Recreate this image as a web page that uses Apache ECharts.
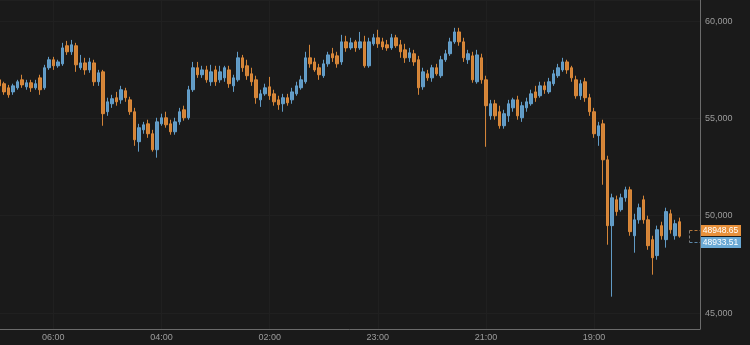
<!DOCTYPE html>
<html><head><meta charset="utf-8">
<script src="https://cdn.jsdelivr.net/npm/echarts@6/dist/echarts.min.js"></script>
<style>html,body{margin:0;padding:0;background:#1a1a1a;}#c{width:750px;height:345px;}</style>
</head><body><div id="c"></div>
<script>
const opens = [
56980,56780,56570,56360,56570,56980,56620,56830,56570,57080,
56570,57600,58010,57700,57800,58730,58420,58730,57600,57850,
57490,57850,56880,57390,55340,55750,56060,55950,56420,55950,
55340,53800,54410,54720,54210,53390,54720,55030,54720,54310,
54820,55440,55030,56470,57600,57240,57490,56880,57490,56980,
57080,57490,56670,56980,58110,57700,57290,56980,55950,56260,
56620,56260,55950,55750,56060,55950,56260,56570,56880,58110,
57900,57600,57190,57800,58320,58210,57900,58930,58620,58930,
58620,58930,57700,58830,59140,58930,58780,58620,59140,58780,
58520,58110,58320,58010,56620,57290,57080,57600,57190,58010,
58320,58930,59440,58930,58010,58210,56880,58110,56980,55130,
55750,55340,54620,55130,55540,55950,55030,55540,55750,56360,
56160,56670,56360,56780,57190,57490,57900,57600,56980,56160,
56880,56060,55340,54110,54720,52870,49490,50820,50310,50920,
51330,48970,49790,50820,49790,48770,47950,49490,48770,50100,
48970,49690];
const closes = [
56670,56360,56210,56670,56880,56720,56830,56570,56780,56470,
57600,58010,57700,57900,58620,58420,58780,57750,57850,57490,
57900,56880,57340,55240,55850,56010,55850,56470,56060,55340,
53900,54520,54670,54210,53390,54820,55030,54670,54310,54820,
55340,55030,56470,57600,57240,57490,56980,57390,56880,57390,
57600,56780,57080,58110,57600,57190,56880,56060,56260,56570,
56160,55850,55700,56060,55800,56360,56670,56980,58110,57800,
57490,57240,57800,58260,58110,57800,58930,58620,58880,58620,
58930,57700,58930,59140,58830,58670,58620,59140,58730,58420,
58110,58370,57900,56570,57390,57080,57600,57290,58010,58320,
58930,59440,58930,58110,58320,56980,58260,56980,55650,55750,
55130,54620,55240,55750,55950,55130,55650,55850,56260,56060,
56670,56470,56880,57290,57600,57900,57490,57080,56160,56780,
56060,55340,54210,54620,52870,49490,50920,50210,50920,51330,
49180,49790,50410,49790,48460,47840,49280,48970,50210,49280,
49590,48948.65];
const lows = [
56570,56210,56060,56210,56470,56570,56470,56360,56470,56210,
56470,57490,57490,57600,57700,58260,58260,57390,57490,57240,
57340,56670,56670,54620,55130,55540,55650,55750,55850,55180,
53590,53290,54210,54000,53290,52980,54620,54520,54160,54160,
54670,54880,54930,56360,57080,57080,56830,56670,56670,56830,
56880,56570,56360,56880,57390,56980,56670,55750,55590,56160,
55950,55650,55440,55340,55650,55750,56160,56470,56780,57600,
57390,56980,57080,57650,57900,57600,57750,58420,58520,58420,
58520,57600,57600,58730,58620,58520,58470,58520,58620,58110,
57850,57900,57700,56210,56470,56930,56880,57190,57080,57900,
58210,58830,58730,57900,57800,56830,56780,56780,53540,54930,
54930,54470,54470,54820,55340,54930,54820,55340,55650,55850,
56060,56260,56260,56670,57080,57390,57290,56880,56010,55950,
55850,55130,54000,53590,51590,48510,45840,50000,50210,50720,
48970,48100,49590,49590,48250,46970,47740,48770,48360,49080,
48770,48870];
const highs = [
57130,56880,56720,56780,56980,57240,56980,56980,56980,57240,
57750,58160,58160,58010,58880,58980,59030,58880,58260,58110,
58110,58010,57490,57490,56060,56210,56360,56670,56570,56110,
55540,54720,54820,54930,54410,55030,55240,55340,54930,55030,
55540,55650,56670,57900,57900,57700,57700,57750,57700,57700,
57700,57700,57240,58420,58260,58010,57600,57190,56470,56780,
57130,56470,56160,56260,56260,56570,56880,57190,58420,58780,
58110,57800,58010,58420,58620,58420,59290,59240,59140,59030,
59440,59240,59140,59340,59550,59140,59030,59340,59290,59030,
58830,58620,58520,58210,57600,57490,57750,57800,58210,58520,
59140,59650,59650,59140,58520,58420,58520,58320,57190,55950,
55950,55650,55440,55950,56060,56160,55850,56060,56470,56670,
56880,56880,57080,57490,57800,58110,58010,57700,57190,56980,
57080,56260,55540,54820,54930,53080,51130,51030,51130,51490,
51490,50100,50620,51030,50000,48970,49490,49690,50410,50310,
49790,49900];
const tickIndex = [12, 36, 60, 84, 108, 132];
const tickLabels = ['06:00', '04:00', '02:00', '23:00', '21:00', '19:00'];
const yTicks = [45000, 50000, 55000, 60000];
const lastPrices = [48948.65, 48933.51];
const slotCount = 156;

const categories = Array.from({length: slotCount}, (_, i) => String(i));
const ohlc = opens.map((o, i) => [o, closes[i], lows[i], highs[i]]);

const UP = '#67a5d3', DOWN = '#e38d3b';
const chart = echarts.init(document.getElementById('c'));
const isTick = (i) => tickIndex.indexOf(i) >= 0;
chart.setOption({
  backgroundColor: '#1a1a1a',
  animation: false,
  textStyle: {fontFamily: 'Liberation Sans, Arial, sans-serif'},
  grid: {left: -3, right: 50, top: 0, bottom: 16, containLabel: false, outerBoundsMode: 'none'},
  xAxis: {
    type: 'category', data: categories, boundaryGap: true,
    axisLine: {show: true, lineStyle: {color: '#6b6b6b'}},
    axisTick: {show: false},
    axisLabel: {
      interval: (i) => isTick(i),
      formatter: (v) => { const k = tickIndex.indexOf(Number(v)); return k >= 0 ? tickLabels[k] : ''; },
      color: '#9c9c9c', fontSize: 9, margin: 4
    },
    splitLine: {show: true, alignWithLabel: true, interval: (i) => isTick(i), lineStyle: {color: '#202020'}}
  },
  yAxis: {
    type: 'value', position: 'right', min: 44180, max: 61080, splitNumber: 3,
    axisLine: {show: true, lineStyle: {color: '#6b6b6b'}},
    axisTick: {show: false},
    axisLabel: {
      color: '#9c9c9c', fontSize: 9, margin: 5, showMinLabel: false, showMaxLabel: false,
      formatter: (v) => yTicks.indexOf(v) >= 0 ? v.toLocaleString('en-US') : ''
    },
    splitLine: {show: true, lineStyle: {color: '#202020'}}
  },
  series: [{
    type: 'candlestick', data: ohlc, barWidth: 3,
    itemStyle: {color: UP, color0: DOWN, borderColor: UP, borderColor0: DOWN, borderWidth: 1, opacity: 0.92}
  }]
});

// price tags on the right axis
const n = opens.length;
const xStart = chart.convertToPixel({gridIndex: 0}, [n + 1, lastPrices[0]])[0];
const xA = chart.convertToPixel({gridIndex: 0}, [slotCount - 1, lastPrices[0]])[0];
const xB = chart.convertToPixel({gridIndex: 0}, [slotCount - 2, lastPrices[0]])[0];
const xEnd = xA + (xA - xB) / 2;
const py1 = chart.convertToPixel({gridIndex: 0}, [n - 1, lastPrices[0]])[1];
const py2 = chart.convertToPixel({gridIndex: 0}, [n - 1, lastPrices[1]])[1];
const yT = Math.round(py1 - 6) + 0.5, yB = Math.round(py2 + 6) + 0.5;
const xs = Math.round(xStart) + 0.5;
const TAG_UP = '#6aa9d5', TAG_DOWN = '#e8913c';
chart.setOption({
  graphic: [
    {type: 'line', shape: {x1: xs, y1: yT, x2: xEnd, y2: yT}, style: {stroke: '#b5773a', lineWidth: 1, lineDash: [3, 2]}},
    {type: 'line', shape: {x1: xs, y1: yB, x2: xEnd, y2: yB}, style: {stroke: '#5b88ab', lineWidth: 1, lineDash: [3, 2]}},
    {type: 'line', shape: {x1: xs, y1: yT, x2: xs, y2: yB}, style: {stroke: '#7a7a7a', lineWidth: 1, lineDash: [3, 2]}},
    {type: 'rect', shape: {x: xEnd, y: yT - 5.5, width: 41, height: 11}, style: {fill: TAG_DOWN}},
    {type: 'text', x: xEnd + 20.5, y: yT, style: {text: lastPrices[0].toFixed(2), fill: '#ffffff', fontSize: 8.5, fontFamily: 'Liberation Sans, Arial, sans-serif', align: 'center', verticalAlign: 'middle'}},
    {type: 'rect', shape: {x: xEnd, y: yB - 5.5, width: 41, height: 11}, style: {fill: TAG_UP}},
    {type: 'text', x: xEnd + 20.5, y: yB, style: {text: lastPrices[1].toFixed(2), fill: '#ffffff', fontSize: 8.5, fontFamily: 'Liberation Sans, Arial, sans-serif', align: 'center', verticalAlign: 'middle'}}
  ]
});
</script>
</body></html>
